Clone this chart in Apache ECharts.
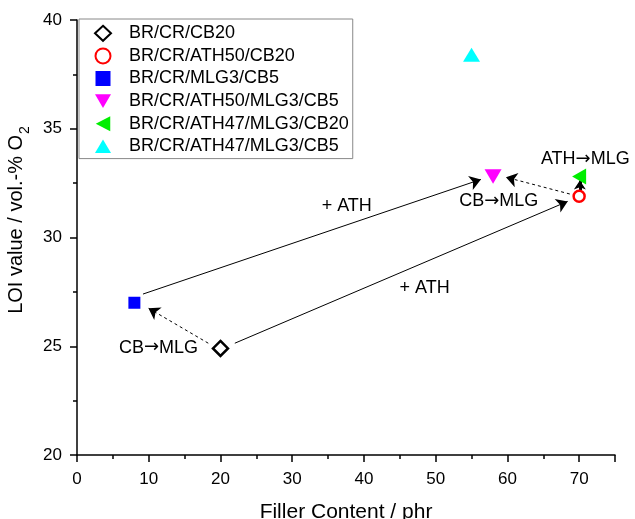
<!DOCTYPE html>
<html>
<head>
<meta charset="utf-8">
<script src="https://cdn.jsdelivr.net/npm/echarts@6/dist/echarts.min.js"></script>
<style>
html,body{margin:0;padding:0;background:#fff;}
#chart{width:635px;height:519px;}
</style>
</head>
<body>
<div id="chart"></div>
<script>
// ---- data ----
const seriesNames = ['BR/CR/CB20', 'BR/CR/ATH50/CB20', 'BR/CR/MLG3/CB5', 'BR/CR/ATH50/MLG3/CB5', 'BR/CR/ATH47/MLG3/CB20', 'BR/CR/ATH47/MLG3/CB5'];
const fillerContent = [20, 70, 8, 58, 70, 55];
const loiValues = [24.9, 31.9, 27.0, 32.8, 32.8, 38.4];
const xTicks = [0, 10, 20, 30, 40, 50, 60, 70];
const yTicks = [20, 25, 30, 35, 40];
// arrows: [fromX, fromY, toX, toY]
const arrowsSolid = [[9.2, 27.4, 56.3, 32.67], [22.0, 25.14, 68.4, 31.66]];
const arrowsDashed = [[18.3, 25.14, 9.96, 26.75], [68.7, 32.0, 59.8, 32.77]];
const arrowsThick = [[70.1, 32.16, 70.1, 32.62]];
const annotationTexts = ['+ ATH', '+ ATH', 'CB\u2192MLG', 'CB\u2192MLG', 'ATH\u2192MLG'];
const annotationX = [37.6, 48.46, 11.36, 58.79, 70.86];
const annotationY = [31.44, 27.69, 24.93, 31.67, 33.59];

// ---- styles ----
const FONT = '"Liberation Sans", Arial, Helvetica, sans-serif';
const ARROW_FONT = '"DejaVu Sans", "Liberation Sans", sans-serif';
const markerStyles = [
  {symbol: 'diamond', symbolSize: 15, itemStyle: {color: '#fff', borderColor: '#000', borderWidth: 2.5, opacity: 1}},
  {symbol: 'circle', symbolSize: 11, itemStyle: {color: '#fff', borderColor: '#ff0000', borderWidth: 2.5, opacity: 1}},
  {symbol: 'rect', symbolSize: 12, itemStyle: {color: '#0000ff', opacity: 1}},
  {symbol: 'triangle', symbolSize: [17, 14.5], symbolRotate: 180, itemStyle: {color: '#ff00ff', opacity: 1}},
  {symbol: 'triangle', symbolSize: [16, 14], symbolRotate: 90, itemStyle: {color: '#00ee00', opacity: 1}},
  {symbol: 'triangle', symbolSize: [17, 14], symbolRotate: 0, itemStyle: {color: '#00ffff', opacity: 1}}
];
const legendIcons = [
  'diamond',
  'circle',
  'path://M0,0 L12,0 L12,12 L0,12 Z',
  'path://M0,0 L17,0 L8.5,14.5 Z',
  'path://M0,7.5 L14.5,0 L14.5,15 Z',
  'path://M8.5,0 L17,14.5 L0,14.5 Z'
];

const chart = echarts.init(document.getElementById('chart'), null, {renderer: 'canvas'});

const scatterSeries = seriesNames.map((name, i) => Object.assign({
  name: name,
  type: 'scatter',
  z: 5,
  data: [[fillerContent[i], loiValues[i]]]
}, markerStyles[i]));

function lineSeries(arr, style, symSize) {
  return {
    type: 'lines',
    coordinateSystem: 'cartesian2d',
    z: 3,
    symbol: ['none', 'arrow'],
    symbolSize: symSize,
    silent: true,
    lineStyle: style,
    data: arr.map(a => ({coords: [[a[0], a[1]], [a[2], a[3]]]}))
  };
}

function richArrow(t) {
  return t.split('\u2192').map(s => '{t|' + s + '}').join('{r|\u2192}');
}

const annotationSeries = {
  type: 'scatter',
  symbolSize: 0,
  z: 6,
  silent: true,
  clip: false,
  itemStyle: {opacity: 1},
  label: {
    show: true,
    position: 'inside',
    formatter: p => richArrow(p.data.name),
    color: '#000',
    fontSize: 18,
    fontFamily: FONT,
    rich: {
      t: {fontSize: 18, color: '#000', fontFamily: FONT},
      r: {fontSize: 18, color: '#000', fontFamily: ARROW_FONT}
    }
  },
  data: annotationTexts.map((t, i) => ({name: t, value: [annotationX[i], annotationY[i]]}))
};

const option = {
  animation: false,
  backgroundColor: '#fff',
  textStyle: {fontFamily: FONT},
  grid: {left: 77, right: 20, top: 20, bottom: 64, containLabel: false, outerBoundsMode: 'none'},
  legend: {
    orient: 'vertical',
    left: 79,
    top: 19,
    data: seriesNames.map((n, i) => ({name: n, icon: legendIcons[i]})),
    itemWidth: 16,
    itemHeight: 15,
    itemGap: 0,
    symbolKeepAspect: true,
    padding: [3, 4, 1, 15],
    borderColor: '#888',
    borderWidth: 1,
    textStyle: {fontSize: 18, color: '#000', fontFamily: FONT, lineHeight: 22.6, padding: [0, 0, 0, 13]}
  },
  xAxis: {
    type: 'value',
    min: 0,
    max: 75,
    interval: 10,
    name: 'Filler Content / phr',
    nameLocation: 'middle',
    nameGap: 47,
    nameTextStyle: {fontSize: 21, color: '#000', fontFamily: FONT},
    axisLine: {show: true, onZero: false, lineStyle: {color: '#000', width: 1.5}},
    axisTick: {show: true, inside: false, length: 7, lineStyle: {color: '#000', width: 1.5}},
    minorTick: {show: true, splitNumber: 2, length: 4, lineStyle: {color: '#000', width: 1.5}},
    axisLabel: {
      fontSize: 17, color: '#000', margin: 16, fontFamily: FONT,
      formatter: v => (xTicks.indexOf(v) >= 0 ? String(v) : '')
    },
    splitLine: {show: false}
  },
  yAxis: {
    type: 'value',
    min: 20,
    max: 40,
    interval: 5,
    name: '{m|LOI value / vol.-% O}{s|2}',
    nameLocation: 'middle',
    nameRotate: 90,
    nameGap: 41,
    nameTextStyle: {
      fontSize: 20, color: '#000', fontFamily: FONT, padding: [0, 0, 0, 35],
      rich: {
        m: {fontSize: 20, color: '#000', fontFamily: FONT},
        s: {fontSize: 14, color: '#000', fontFamily: FONT, verticalAlign: 'bottom', padding: [0, 0, -6, 1]}
      }
    },
    axisLine: {show: true, onZero: false, lineStyle: {color: '#000', width: 1.5}},
    axisTick: {show: true, inside: false, length: 7, lineStyle: {color: '#000', width: 1.5}},
    minorTick: {show: true, splitNumber: 2, length: 4, lineStyle: {color: '#000', width: 1.5}},
    axisLabel: {
      fontSize: 17, color: '#000', margin: 15, fontFamily: FONT,
      formatter: v => (yTicks.indexOf(v) >= 0 ? String(v) : '')
    },
    splitLine: {show: false}
  },
  series: scatterSeries.concat([
    lineSeries(arrowsSolid, {color: '#000', width: 1, type: 'solid', opacity: 1}, [7, 11]),
    lineSeries(arrowsDashed, {color: '#000', width: 1, type: [3, 3], opacity: 1}, [7, 11]),
    lineSeries(arrowsThick, {color: '#000', width: 3, type: 'solid', opacity: 1}, [8, 9]),
    annotationSeries
  ])
};

chart.setOption(option);
</script>
</body>
</html>
